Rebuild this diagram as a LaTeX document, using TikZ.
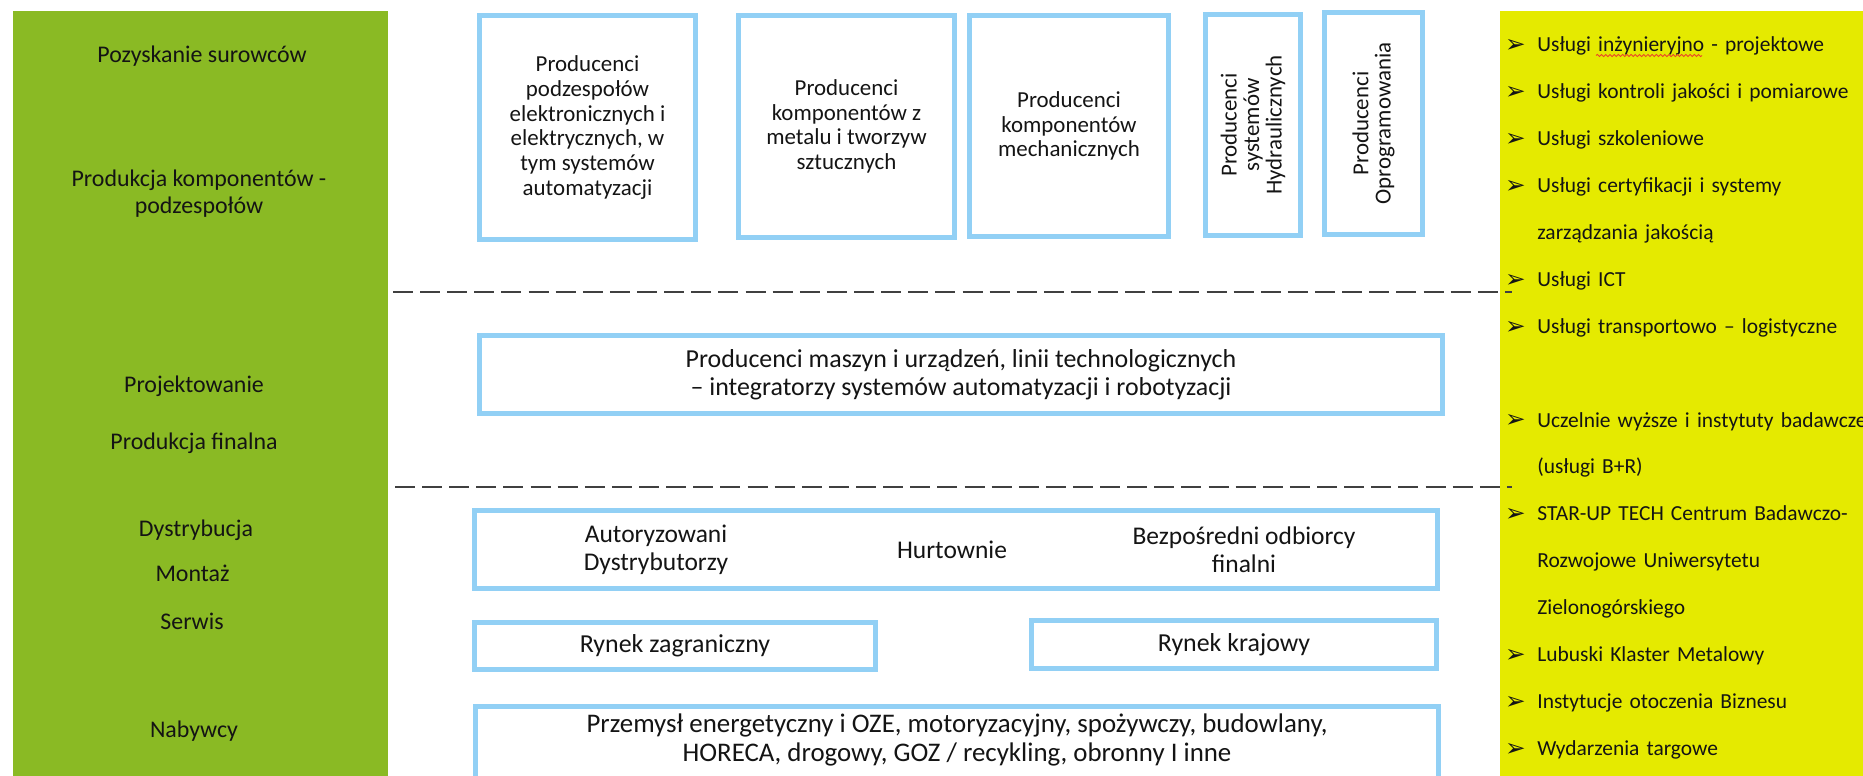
\documentclass[tikz,border=0pt]{standalone}
\usepackage{fontspec}
\setmainfont{Carlito}
\newfontfamily\bulletfont{DejaVu Sans}
\usetikzlibrary{positioning,decorations.pathmorphing}

\definecolor{stagegreen}{RGB}{138,186,36}
\definecolor{supportyellow}{RGB}{229,234,0}
\definecolor{frameblue}{RGB}{146,208,245}
\definecolor{dashgray}{RGB}{64,64,64}
\definecolor{inkblack}{RGB}{20,20,20}
\definecolor{spellred}{RGB}{235,70,40}

\newcommand{\itemarrow}{\llap{\raisebox{-0.4pt}{\bulletfont\fontsize{14pt}{14pt}\selectfont ➢}\hspace{6.6pt}}}

\tikzstyle{block} = [draw=frameblue, line width=0.1cm, rectangle, fill=white, text=inkblack, align=center, inner sep=0pt]
\tikzstyle{producer-block} = [block, font=\fontsize{13.04pt}{14.1pt}\selectfont]
\tikzstyle{vertical-block} = [block, rotate=90, font=\fontsize{13.04pt}{12.75pt}\selectfont]
\tikzstyle{wide-block} = [block, font=\fontsize{14.74pt}{15.9pt}\selectfont]
\tikzstyle{block-text} = [text=inkblack, align=center, inner sep=0pt, font=\fontsize{14.5pt}{15.9pt}\selectfont]
\tikzstyle{stage-label} = [text=inkblack, align=center, inner sep=0pt, font=\fontsize{13.6pt}{15.3pt}\selectfont]
\tikzstyle{support-item} = [text=inkblack, align=left, inner sep=0pt, text width=7cm, text height=9.15pt, text depth=3.05pt, font=\fontsize{12.2pt}{12.2pt}\selectfont, node distance=0.938cm]
\tikzstyle{separator} = [draw=dashgray, line width=0.04cm, dash pattern=on 0.4cm off 0.1425cm]

\begin{document}
\begin{tikzpicture}[x=0.02cm, y=-0.02cm]

	\useasboundingbox (0,0) rectangle (1863,776);

	% side panels
	\fill[stagegreen] (13,11) rectangle (388,790);
	\fill[supportyellow] (1500,11) rectangle (1870,790);

	% stages of the chain
	\node [stage-label, anchor=base] (pozyskanie) at (202,63) {Pozyskanie surowców};
	\node [stage-label] (produkcjaKomp) at (199,193.6) {Produkcja komponentów -\\podzespołów};
	\node [stage-label, anchor=base] (projektowanie) at (194,393) {Projektowanie};
	\node [stage-label, anchor=base] (produkcjaFin) at (194,450) {Produkcja finalna};
	\node [stage-label, anchor=base] (dystrybucja) at (196,537) {Dystrybucja};
	\node [stage-label, anchor=base] (montaz) at (192.5,582) {Montaż};
	\node [stage-label, anchor=base] (serwis) at (192,629) {Serwis};
	\node [stage-label, anchor=base] (nabywcy) at (194,737) {Nabywcy};

	% level separators
	\coordinate (podzialGoraL) at (393,292);
	\coordinate (podzialGoraP) at (1512,292);
	\coordinate (podzialDolL) at (395,487);
	\coordinate (podzialDolP) at (1512,487);
	\draw [separator] (podzialGoraL) -- (podzialGoraP);
	\draw [separator] (podzialDolL) -- (podzialDolP);

	% component producers
	\node [producer-block, minimum width=4.32cm, minimum height=4.48cm] (elektronika) at (587.5,127.5) {Producenci\\podzespołów\\elektronicznych i\\elektrycznych, w\\tym systemów\\automatyzacji};
	\node [producer-block, minimum width=4.32cm, minimum height=4.44cm] (tworzywa) at (846.5,126.5) {Producenci\\komponentów z\\metalu i tworzyw\\sztucznych};
	\node [producer-block, minimum width=3.98cm, minimum height=4.42cm] (mechanika) at (1069,126) {Producenci\\komponentów\\mechanicznych};
	\node [vertical-block, minimum width=4.42cm, minimum height=1.90cm] (hydraulika) at (1253,125) {Producenci\\systemów\\Hydraulicznych};
	\node [vertical-block, minimum width=4.44cm, minimum height=1.96cm] (oprogramowanie) at (1373.5,123.5) {Producenci\\Oprogramowania};

	% final production
	\node [wide-block, minimum width=19.26cm, minimum height=1.56cm] (maszyny) at (961,374.5) {Producenci maszyn i urządzeń, linii technologicznych\\– integratorzy systemów automatyzacji i robotyzacji};

	% distribution
	\node [wide-block, minimum width=19.26cm, minimum height=1.56cm] (kanaly) at (956,549.5) {};
	\node [block-text] (dystrybutorzy) at (656,550) {Autoryzowani\\Dystrybutorzy};
	\node [block-text] (hurtownie) at (952,550) {Hurtownie};
	\node [block-text] (odbiorcy) at (1244,550) {Bezpośredni odbiorcy\\finalni};

	\node [wide-block, minimum width=8.02cm, minimum height=0.94cm] (zagranica) at (675,646) {Rynek zagraniczny};
	\node [wide-block, minimum width=8.10cm, minimum height=0.96cm] (kraj) at (1234,644.5) {Rynek krajowy};

	% buyers
	\node [wide-block, minimum width=19.26cm, minimum height=3cm, anchor=north] (branzeBox) at (957,703.5) {};
	\node [block-text, font=\fontsize{15.3pt}{17pt}\selectfont] (branze) at (957,740) {Przemysł energetyczny i OZE, motoryzacyjny, spożywczy, budowlany,\\HORECA, drogowy, GOZ / recykling, obronny I inne};

	% supporting services
	\node [support-item, anchor=west] (inzynieria) at (1537,46.6) {\itemarrow Usługi inżynieryjno - projektowe};
	\node [support-item, below of=inzynieria] (kontrola) {\itemarrow Usługi kontroli jakości i pomiarowe};
	\node [support-item, below of=kontrola] (szkolenia) {\itemarrow Usługi szkoleniowe};
	\node [support-item, below of=szkolenia] (certyfikacja) {\itemarrow Usługi certyfikacji i systemy};
	\node [support-item, below of=certyfikacja] (certyfikacja2) {zarządzania jakością};
	\node [support-item, below of=certyfikacja2] (ict) {\itemarrow Usługi ICT};
	\node [support-item, below of=ict] (transport) {\itemarrow Usługi transportowo – logistyczne};
	\node [support-item, node distance=1.876cm, below of=transport] (uczelnie) {\itemarrow Uczelnie wyższe i instytuty badawcze};
	\node [support-item, below of=uczelnie] (uczelnie2) {(usługi B+R)};
	\node [support-item, below of=uczelnie2] (starup) {\itemarrow STAR-UP TECH Centrum Badawczo-};
	\node [support-item, below of=starup] (starup2) {Rozwojowe Uniwersytetu};
	\node [support-item, below of=starup2] (starup3) {Zielonogórskiego};
	\node [support-item, below of=starup3] (klaster) {\itemarrow Lubuski Klaster Metalowy};
	\node [support-item, below of=klaster] (otoczenie) {\itemarrow Instytucje otoczenia Biznesu};
	\node [support-item, below of=otoczenie] (targi) {\itemarrow Wydarzenia targowe};

	\draw [spellred, line width=0.5pt, decorate, decoration={snake, amplitude=0.6pt, segment length=2.4pt}] (1596,55.5) -- (1702,55.5);

\end{tikzpicture}
\end{document}
